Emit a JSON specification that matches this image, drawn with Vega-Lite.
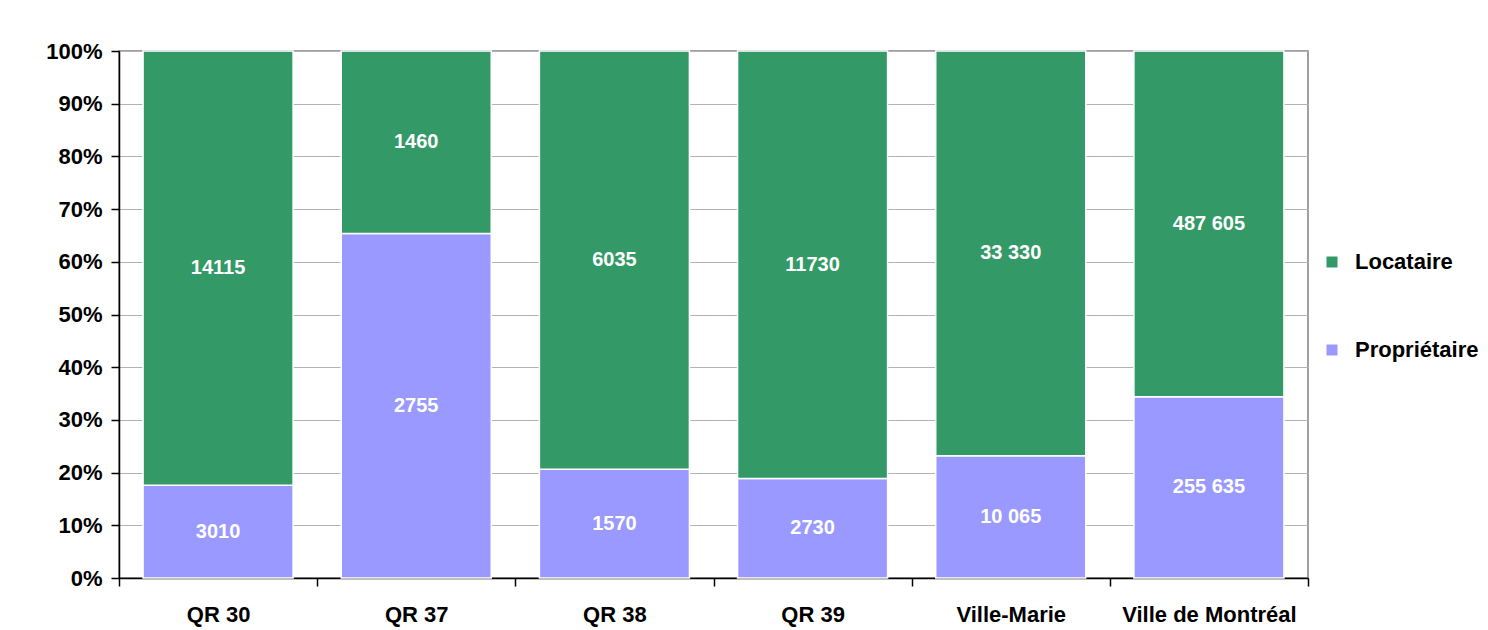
{
  "$schema": "https://vega.github.io/schema/vega-lite/v6.json",
  "width": 1189,
  "height": 527,
  "autosize": "none",
  "padding": {"left": 119, "top": 51, "right": 180, "bottom": 52},
  "background": "white",
  "config": {
    "view": {"stroke": "#808080", "strokeWidth": 1.5},
    "font": "Liberation Sans"
  },
  "data": {
    "values": [
      {"area": "QR 30", "type": "Propriétaire", "value": 3010, "label": "3010"},
      {"area": "QR 30", "type": "Locataire", "value": 14115, "label": "14115"},
      {"area": "QR 37", "type": "Propriétaire", "value": 2755, "label": "2755"},
      {"area": "QR 37", "type": "Locataire", "value": 1460, "label": "1460"},
      {"area": "QR 38", "type": "Propriétaire", "value": 1570, "label": "1570"},
      {"area": "QR 38", "type": "Locataire", "value": 6035, "label": "6035"},
      {"area": "QR 39", "type": "Propriétaire", "value": 2730, "label": "2730"},
      {"area": "QR 39", "type": "Locataire", "value": 11730, "label": "11730"},
      {"area": "Ville-Marie", "type": "Propriétaire", "value": 10065, "label": "10 065"},
      {"area": "Ville-Marie", "type": "Locataire", "value": 33330, "label": "33 330"},
      {"area": "Ville de Montréal", "type": "Propriétaire", "value": 255635, "label": "255 635"},
      {"area": "Ville de Montréal", "type": "Locataire", "value": 487605, "label": "487 605"}
    ]
  },
  "transform": [
    {"stack": "value", "groupby": ["area"], "offset": "normalize", "sort": [{"field": "type", "order": "descending"}], "as": ["y0", "y1"]},
    {"calculate": "(datum.y0 + datum.y1) / 2", "as": "ymid"}
  ],
  "encoding": {
    "x": {
      "field": "area",
      "type": "nominal",
      "sort": null,
      "scale": {"paddingInner": 0, "paddingOuter": 0},
      "axis": {
        "title": null,
        "tickBand": "extent",
        "tickSize": 8,
        "tickColor": "black",
        "tickWidth": 1.5,
        "domainColor": "black",
        "domainWidth": 1.5,
        "labelFontSize": 22,
        "labelFontWeight": "bold",
        "labelColor": "black",
        "labelPadding": 18,
        "labelAngle": 0,
        "grid": false
      }
    }
  },
  "layer": [
    {
      "mark": {"type": "bar", "stroke": "white", "strokeWidth": 1.5, "width": {"band": 0.757}},
      "encoding": {
        "y": {
          "field": "y0",
          "type": "quantitative",
          "title": null,
          "scale": {"domain": [0, 1], "nice": false},
          "axis": {
            "title": null,
            "values": [0, 0.1, 0.2, 0.3, 0.4, 0.5, 0.6, 0.7, 0.8, 0.9, 1],
            "format": ".0%",
            "domainColor": "black",
            "domainWidth": 1.5,
            "tickColor": "black",
            "tickWidth": 1.5,
            "tickSize": 8,
            "labelFontSize": 22,
            "labelFontWeight": "bold",
            "labelColor": "black",
            "labelPadding": 9,
            "gridColor": "#b3b3b3",
            "gridWidth": 1.2
          }
        },
        "y2": {"field": "y1"},
        "color": {
          "field": "type",
          "type": "nominal",
          "scale": {"domain": ["Locataire", "Propriétaire"], "range": ["#339966", "#9999FF"]},
          "legend": {
            "title": null,
            "orient": "none",
            "legendX": 1202,
            "legendY": 200,
            "symbolType": "square",
            "symbolSize": 121,
            "symbolStrokeWidth": 0,
            "symbolOpacity": 1,
            "labelFontSize": 22,
            "labelFontWeight": "bold",
            "labelColor": "black",
            "rowPadding": 66,
            "labelOffset": 12
          }
        }
      }
    },
    {
      "mark": {"type": "text", "color": "white", "fontWeight": "bold", "fontSize": 20, "baseline": "middle"},
      "encoding": {
        "y": {"field": "ymid", "type": "quantitative", "title": null},
        "text": {"field": "label"}
      }
    }
  ]
}
